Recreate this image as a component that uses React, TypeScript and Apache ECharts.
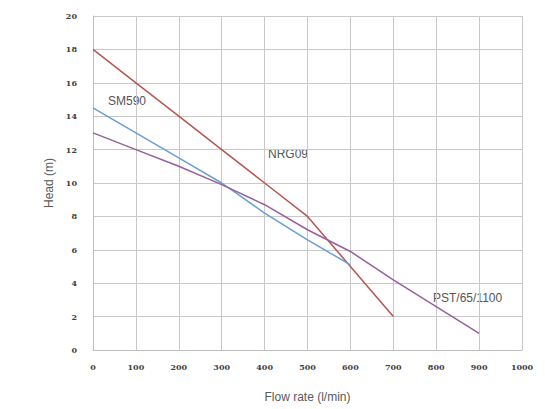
import React, { useEffect, useRef } from "react";
import * as echarts from "echarts";

const flowNRG09 = [0, 100, 200, 300, 400, 500, 600, 700];
const headNRG09 = [18, 16, 14, 12, 10, 8, 5, 2];

const flowSM590 = [0, 100, 200, 300, 400, 500, 600];
const headSM590 = [14.5, 13, 11.5, 10, 8.2, 6.6, 5.1];

const flowPST = [0, 100, 200, 300, 400, 500, 600, 700, 800, 900];
const headPST = [13, 12, 11, 9.9, 8.7, 7.2, 5.9, 4.2, 2.6, 1];

const xTicks = [0, 100, 200, 300, 400, 500, 600, 700, 800, 900, 1000];
const yTicks = [0, 2, 4, 6, 8, 10, 12, 14, 16, 18, 20];

const seriesLabels = [
  { text: "SM590", x: 108, y: 102 },
  { text: "NRG09", x: 268, y: 155 },
  { text: "PST/65/1100", x: 433, y: 299 },
];

const pair = (xs: number[], ys: number[]) => xs.map((x, i) => [x, ys[i]]);

export default function App() {
  const ref = useRef<HTMLDivElement>(null);
  useEffect(() => {
    if (!ref.current) return;
    document.body.style.margin = "0";
    const chart = echarts.init(ref.current, null, { renderer: "svg" });
    const tickFont = {
      fontFamily: "DejaVu Serif",
      fontSize: 8,
      fontWeight: "bold" as const,
      color: "#404040",
      formatter: (v: number) => String(v),
    };
    chart.setOption({
      animation: false,
      backgroundColor: "#ffffff",
      grid: { left: 93, right: 23, top: 16, bottom: 59 },
      xAxis: {
        type: "value",
        min: xTicks[0],
        max: xTicks[xTicks.length - 1],
        interval: 100,
        name: "Flow rate (l/min)",
        nameLocation: "middle",
        nameGap: 41,
        nameTextStyle: { fontFamily: "Liberation Sans", fontSize: 12, color: "#595959" },
        axisLine: { show: true, lineStyle: { color: "#bdbdbd" } },
        axisTick: { show: false },
        axisLabel: { ...tickFont, margin: 13 },
        splitLine: { show: true, lineStyle: { color: "#c8c8c8", width: 1, type: "solid" } },
      },
      yAxis: {
        type: "value",
        min: yTicks[0],
        max: yTicks[yTicks.length - 1],
        interval: 2,
        name: "Head (m)",
        nameLocation: "middle",
        nameGap: 38,
        nameTextStyle: { fontFamily: "Liberation Sans", fontSize: 12, color: "#595959" },
        axisLine: { show: true, lineStyle: { color: "#bdbdbd" } },
        axisTick: { show: false },
        axisLabel: { ...tickFont, margin: 16 },
        splitLine: { show: true, lineStyle: { color: "#c8c8c8", width: 1, type: "solid" } },
      },
      series: [
        {
          name: "NRG09",
          type: "line",
          data: pair(flowNRG09, headNRG09),
          symbol: "none",
          lineStyle: { color: "#b4574f", width: 1.5 },
        },
        {
          name: "SM590",
          type: "line",
          data: pair(flowSM590, headSM590),
          symbol: "none",
          lineStyle: { color: "#6a9fd2", width: 1.5 },
        },
        {
          name: "PST/65/1100",
          type: "line",
          data: pair(flowPST, headPST),
          symbol: "none",
          lineStyle: { color: "#95609d", width: 1.5 },
        },
      ],
      graphic: seriesLabels.map((l) => ({
        type: "text",
        left: l.x,
        top: l.y - 7,
        style: {
          text: l.text,
          fontFamily: "Liberation Sans",
          fontSize: 12,
          fill: "#555555",
        },
      })),
    });
    return () => chart.dispose();
  }, []);
  return <div ref={ref} style={{ width: 545, height: 409 }} />;
}
